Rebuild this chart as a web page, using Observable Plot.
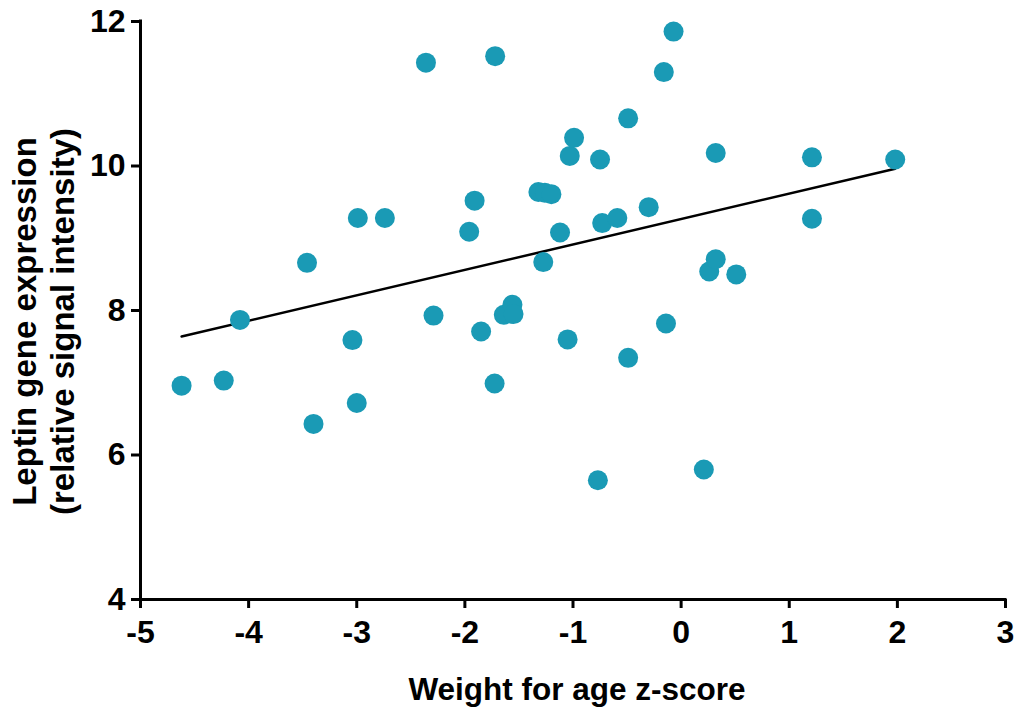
<!DOCTYPE html>
<html>
<head>
<meta charset="utf-8">
<script src="https://cdn.jsdelivr.net/npm/d3@7"></script>
<script src="https://cdn.jsdelivr.net/npm/@observablehq/plot@0.6"></script>
<style>
  html, body { margin: 0; padding: 0; background: #fff; }
</style>
</head>
<body>
<div id="chart"></div>
<script>
const zScore = [-4.62,-4.23,-4.08,-3.46,-3.40,-3.04,-3.00,-2.99,-2.74,-2.36,-2.29,-1.96,-1.91,-1.85,-1.72,-1.725,-1.64,-1.56,-1.55,-1.32,-1.26,-1.20,-1.275,-1.12,-1.05,-1.03,-0.99,-0.77,-0.75,-0.73,-0.59,-0.49,-0.49,-0.30,-0.16,-0.14,-0.07,0.21,0.26,0.32,0.32,0.51,1.21,1.21,1.98];
const leptin = [6.96,7.03,7.87,8.66,6.43,7.59,6.72,9.28,9.28,11.43,7.93,9.09,9.52,7.71,11.52,6.99,7.94,8.08,7.95,9.64,9.63,9.61,8.67,9.08,7.60,10.14,10.39,5.65,10.09,9.21,9.28,10.66,7.345,9.43,11.30,7.82,11.86,5.80,8.54,10.18,8.71,8.50,10.12,9.27,10.09];
const xTicks = [-5,-4,-3,-2,-1,0,1,2,3];
const yTicks = [4,6,8,10,12];
const xLabel = "Weight for age z-score";
const yLabel = "Leptin gene expression\n(relative signal intensity)";

const data = zScore.map((x, i) => ({x, y: leptin[i]}));
const font = "'Liberation Sans', Arial, Helvetica, sans-serif";

const chart = Plot.plot({
  width: 1027,
  height: 711,
  marginLeft: 140,
  marginRight: 22,
  marginTop: 21,
  marginBottom: 112,
  style: {fontFamily: font, fontWeight: "bold", fontSize: "31px", color: "#000", background: "#fff", overflow: "visible"},
  x: {domain: [-5, 3]},
  y: {domain: [4, 12]},
  marks: [
    Plot.axisX({ticks: xTicks, tickSize: 9, tickPadding: 12, strokeWidth: 3, fontSize: 32, fontWeight: "bold", tickFormat: d => String(d), label: null}),
    Plot.axisY({ticks: yTicks, tickSize: 9, tickPadding: 6, strokeWidth: 3, fontSize: 32, fontWeight: "bold", tickFormat: d => String(d), label: null}),
    Plot.ruleX([-5], {y1: 4, y2: 12, stroke: "#000", strokeWidth: 3, strokeLinecap: "square"}),
    Plot.ruleY([4], {x1: -5, x2: 3, stroke: "#000", strokeWidth: 3, strokeLinecap: "square"}),
    Plot.linearRegressionY(data, {x: "x", y: "y", stroke: "#000", strokeWidth: 2.5, ci: 0}),
    Plot.dot(data, {x: "x", y: "y", r: 10, fill: "#1a9ab5", stroke: "none"}),
    Plot.text([xLabel], {frameAnchor: "bottom", lineAnchor: "middle", textAnchor: "middle", dx: 4, dy: 90, fontSize: 31.5, fontWeight: "bold", fill: "#000"}),
    Plot.text([yLabel], {frameAnchor: "left", textAnchor: "middle", lineAnchor: "middle", rotate: -90, dx: -98, dy: 11, fontSize: 33, fontWeight: "bold", lineHeight: 1.15, fill: "#000"})
  ]
});
document.getElementById("chart").appendChild(chart);
</script>
</body>
</html>
